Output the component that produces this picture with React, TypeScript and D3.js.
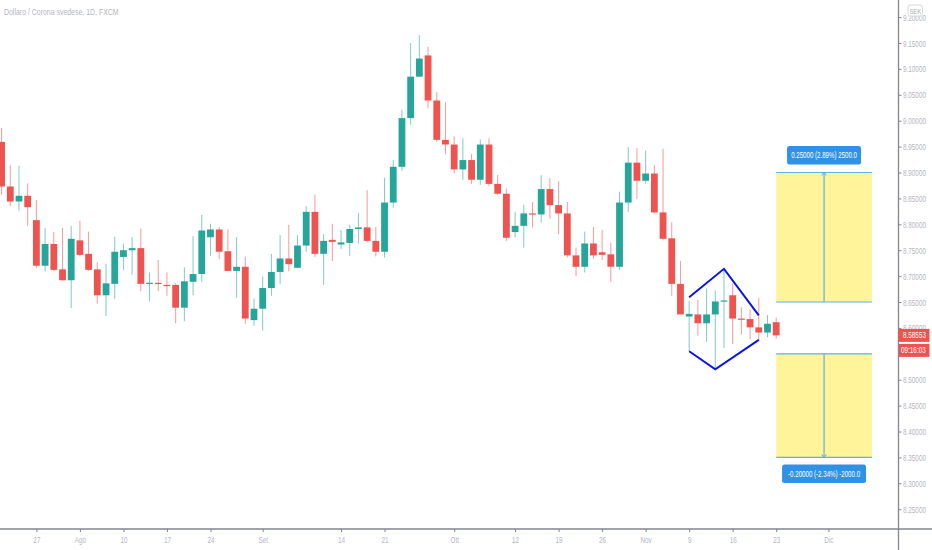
import React, { useEffect, useRef } from 'react';
import * as d3 from 'd3';

const WIDTH = 932;
const HEIGHT = 550;

const opens = [
  8.959, 8.873, 8.844, 8.855, 8.808, 8.720, 8.762, 8.713, 8.692, 8.769,
  8.743, 8.713, 8.663, 8.685, 8.737, 8.750, 8.754, 8.685, 8.687, 8.683,
  8.683, 8.639, 8.689, 8.704, 8.775, 8.790, 8.748, 8.710, 8.718, 8.615,
  8.637, 8.677, 8.708, 8.734, 8.716, 8.759, 8.824, 8.743, 8.770, 8.761,
  8.764, 8.791, 8.794, 8.768, 8.747, 8.842, 8.911, 9.005, 9.085, 9.126,
  9.039, 8.963, 8.954, 8.906, 8.924, 8.886, 8.954, 8.878, 8.859, 8.785,
  8.797, 8.821, 8.819, 8.868, 8.837, 8.821, 8.740, 8.718, 8.763, 8.746,
  8.742, 8.718, 8.842, 8.919, 8.884, 8.898, 8.823, 8.773, 8.685, 8.622,
  8.626, 8.609, 8.626, 8.651, 8.663, 8.618, 8.617, 8.601, 8.591, 8.611,
];

const closes = [
  8.873, 8.844, 8.855, 8.833, 8.720, 8.762, 8.712, 8.692, 8.772, 8.741,
  8.712, 8.663, 8.686, 8.747, 8.750, 8.754, 8.685, 8.687, 8.685, 8.682,
  8.639, 8.690, 8.704, 8.788, 8.790, 8.747, 8.710, 8.718, 8.618, 8.637,
  8.677, 8.708, 8.734, 8.723, 8.759, 8.824, 8.743, 8.768, 8.766, 8.765,
  8.791, 8.794, 8.768, 8.747, 8.842, 8.911, 9.005, 9.085, 9.120, 9.039,
  8.963, 8.954, 8.906, 8.924, 8.886, 8.954, 8.878, 8.859, 8.774, 8.797,
  8.821, 8.819, 8.868, 8.837, 8.821, 8.740, 8.718, 8.763, 8.740, 8.741,
  8.718, 8.842, 8.919, 8.884, 8.898, 8.823, 8.772, 8.685, 8.626, 8.627,
  8.609, 8.626, 8.651, 8.653, 8.618, 8.616, 8.601, 8.591, 8.608, 8.58553,
];

const highs = [
  8.986, 8.914, 8.913, 8.879, 8.847, 8.793, 8.785, 8.793, 8.797, 8.807,
  8.786, 8.727, 8.724, 8.776, 8.763, 8.775, 8.792, 8.707, 8.731, 8.707,
  8.686, 8.717, 8.777, 8.818, 8.801, 8.795, 8.790, 8.775, 8.737, 8.657,
  8.699, 8.743, 8.779, 8.799, 8.779, 8.835, 8.857, 8.781, 8.801, 8.789,
  8.799, 8.822, 8.866, 8.795, 8.890, 8.924, 9.021, 9.150, 9.165, 9.143,
  9.055, 9.036, 8.970, 8.966, 8.936, 8.964, 8.966, 8.895, 8.869, 8.824,
  8.838, 8.843, 8.895, 8.889, 8.883, 8.843, 8.755, 8.786, 8.795, 8.789,
  8.765, 8.863, 8.949, 8.947, 8.942, 8.914, 8.946, 8.804, 8.729, 8.652,
  8.654, 8.676, 8.672, 8.714, 8.686, 8.640, 8.635, 8.658, 8.625, 8.620,
];

const lows = [
  8.857, 8.835, 8.826, 8.797, 8.716, 8.709, 8.710, 8.691, 8.638, 8.739,
  8.710, 8.647, 8.623, 8.656, 8.712, 8.703, 8.671, 8.651, 8.671, 8.662,
  8.609, 8.613, 8.663, 8.689, 8.739, 8.733, 8.710, 8.658, 8.608, 8.604,
  8.595, 8.662, 8.685, 8.709, 8.716, 8.747, 8.737, 8.683, 8.729, 8.752,
  8.739, 8.763, 8.765, 8.738, 8.736, 8.832, 8.903, 8.992, 9.085, 9.024,
  8.959, 8.935, 8.898, 8.886, 8.878, 8.876, 8.874, 8.857, 8.768, 8.775,
  8.755, 8.794, 8.803, 8.811, 8.781, 8.736, 8.700, 8.707, 8.733, 8.731,
  8.689, 8.712, 8.824, 8.849, 8.878, 8.821, 8.769, 8.662, 8.626, 8.555,
  8.585, 8.573, 8.520, 8.561, 8.569, 8.587, 8.578, 8.575, 8.582, 8.579,
];

const priceTicks = [
  9.2, 9.15, 9.1, 9.05, 9.0, 8.95, 8.9, 8.85, 8.8, 8.75, 8.7, 8.65, 8.6, 8.55, 8.5, 8.45, 8.4,
  8.35, 8.3, 8.25,
];

// bar index of each time axis label
const timeTickBars = [4, 9, 14, 19, 24, 30, 39, 44, 52, 59, 64, 69, 74, 79, 84, 89, 95];
const timeTickLabels = [
  '27', 'Ago', '10', '17', '24', 'Set', '14', '21', 'Ott', '12', '19', '26', 'Nov', '9', '16', '23', 'Dic',
];

// diamond drawing, as [bar, price] anchors
const diamondUpper: [number, number][] = [[79, 8.659], [83, 8.714], [87, 8.624]];
const diamondLower: [number, number][] = [[79, 8.555], [82, 8.52], [87, 8.577]];

// price range tools
const rangeBars = [89, 100];
const upperRange = [8.9, 8.65];
const lowerRange = [8.55, 8.35];
const upperLabel = '0.25000 (2.89%) 2500.0';
const lowerLabel = '-0.20000 (-2.34%) -2000.0';

const title = 'Dollaro / Corona svedese, 1D, FXCM';
const lastPrice = 8.58553;
const countdown = '09:16:03';

const UP = '#26a69a';
const DOWN = '#ef5350';
const AXIS = '#83868f';
const MUTED = '#b4b6bd';
const TOOL = '#5eaee8';
const LABEL_BG = '#2f92e6';
const SQUEEZE = 0.74;
const FONT = '"Liberation Sans", Arial, sans-serif';

const App: React.FC = () => {
  const svgRef = useRef<SVGSVGElement>(null);

  useEffect(() => {
    if (!svgRef.current) return;
    const svg = d3.select(svgRef.current);
    svg.selectAll('*').remove();

    const axisX = 898.5;
    const axisY = 529;

    const x = d3.scaleLinear().domain([4, 89]).range([36.4, 776.2]);
    const y = d3.scaleLinear().domain([9.15, 8.25]).range([43, 509.2]);

    const squeezed = (
      parent: d3.Selection<any, any, any, any>,
      px: number,
      py: number,
      str: string,
      size: number,
      fill: string,
      anchor = 'middle',
    ) =>
      parent
        .append('text')
        .attr('transform', `translate(${px},${py}) scale(${SQUEEZE},1)`)
        .attr('text-anchor', anchor)
        .attr('font-family', FONT)
        .attr('font-size', size)
        .attr('fill', fill)
        .text(str);

    // Candles
    const candles = svg.append('g');
    const bars = d3.range(opens.length);
    candles
      .selectAll('line')
      .data(bars)
      .enter()
      .append('line')
      .attr('x1', (i) => x(i))
      .attr('x2', (i) => x(i))
      .attr('y1', (i) => y(highs[i]))
      .attr('y2', (i) => y(lows[i]))
      .attr('stroke', (i) => (closes[i] >= opens[i] ? UP : DOWN))
      .attr('stroke-opacity', 0.65)
      .attr('stroke-width', 0.9);
    candles
      .selectAll('rect')
      .data(bars)
      .enter()
      .append('rect')
      .attr('x', (i) => x(i) - 3.4)
      .attr('width', 6.8)
      .attr('y', (i) => y(Math.max(opens[i], closes[i])))
      .attr('height', (i) => Math.max(1.2, Math.abs(y(opens[i]) - y(closes[i]))))
      .attr('fill', (i) => (closes[i] >= opens[i] ? UP : DOWN));

    // Diamond
    const diamondLine = d3
      .line<[number, number]>()
      .x((d) => x(d[0]))
      .y((d) => y(d[1]));
    [diamondUpper, diamondLower].forEach((pts) => {
      svg
        .append('path')
        .attr('d', diamondLine(pts))
        .attr('fill', 'none')
        .attr('stroke', '#0a14e6')
        .attr('stroke-width', 2);
    });

    // Price ranges
    const left = x(rangeBars[0]);
    const right = x(rangeBars[1]);
    const mid = (left + right) / 2;
    [upperRange, lowerRange].forEach((range, k) => {
      const top = y(range[0]);
      const bottom = y(range[1]);
      const g = svg.append('g');
      g.append('rect')
        .attr('x', left)
        .attr('y', top)
        .attr('width', right - left)
        .attr('height', bottom - top)
        .attr('fill', '#fff49a');
      [top, bottom].forEach((v) => {
        g.append('line')
          .attr('x1', left)
          .attr('x2', right)
          .attr('y1', v)
          .attr('y2', v)
          .attr('stroke', TOOL)
          .attr('stroke-width', 1.2);
      });
      g.append('line')
        .attr('x1', mid)
        .attr('x2', mid)
        .attr('y1', top)
        .attr('y2', bottom)
        .attr('stroke', TOOL)
        .attr('stroke-width', 1.2);
      const tip = k === 0 ? top : bottom;
      const dir = k === 0 ? 1 : -1;
      g.append('path')
        .attr('d', `M${mid - 2.5},${tip + dir * 3}L${mid},${tip}L${mid + 2.5},${tip + dir * 3}`)
        .attr('fill', 'none')
        .attr('stroke', TOOL)
        .attr('stroke-width', 1);

      const boxW = k === 0 ? 74 : 84;
      const boxY = k === 0 ? top - 26.5 : bottom + 7;
      g.append('rect')
        .attr('x', mid - boxW / 2)
        .attr('y', boxY)
        .attr('width', boxW)
        .attr('height', 18.5)
        .attr('rx', 2.5)
        .attr('fill', LABEL_BG);
      squeezed(g, mid, boxY + 12.4, k === 0 ? upperLabel : lowerLabel, 8.3, '#ffffff');
    });

    // Price axis
    const yAxis = svg
      .append('g')
      .attr('transform', `translate(${axisX},0)`)
      .call(
        d3
          .axisRight(y)
          .tickValues(priceTicks)
          .tickFormat((d) => d3.format('.5f')(d as number))
          .tickSize(3)
          .tickSizeOuter(0),
      );
    yAxis.select('.domain').remove();
    yAxis.selectAll('line').attr('stroke', AXIS);
    yAxis
      .selectAll('text')
      .attr('x', null)
      .attr('dy', null)
      .attr('transform', `translate(4.5,3) scale(${SQUEEZE},1)`)
      .attr('font-family', FONT)
      .attr('font-size', 8.6)
      .attr('fill', MUTED);

    // Time axis
    const xAxis = svg
      .append('g')
      .attr('transform', `translate(0,${axisY})`)
      .call(
        d3
          .axisBottom(x)
          .tickValues(timeTickBars)
          .tickFormat((_, i) => timeTickLabels[i])
          .tickSize(3)
          .tickSizeOuter(0),
      );
    xAxis.select('.domain').remove();
    xAxis.selectAll('line').attr('stroke', AXIS);
    xAxis
      .selectAll('text')
      .attr('y', null)
      .attr('dy', null)
      .attr('transform', `translate(0,14) scale(${SQUEEZE},1)`)
      .attr('font-family', FONT)
      .attr('font-size', 8.6)
      .attr('fill', MUTED);

    // Frame
    svg
      .append('line')
      .attr('x1', 0)
      .attr('x2', WIDTH)
      .attr('y1', axisY)
      .attr('y2', axisY)
      .attr('stroke', AXIS)
      .attr('stroke-width', 1.3);
    svg
      .append('line')
      .attr('x1', axisX)
      .attr('x2', axisX)
      .attr('y1', 0)
      .attr('y2', HEIGHT)
      .attr('stroke', AXIS)
      .attr('stroke-width', 1.3);

    // Last price tag and countdown
    const lastY = y(lastPrice);
    svg
      .append('rect')
      .attr('x', axisX)
      .attr('y', lastY - 6.5)
      .attr('width', 31)
      .attr('height', 13)
      .attr('fill', DOWN);
    squeezed(svg, axisX + 4.5, lastY + 3, d3.format('.5f')(lastPrice), 8.6, '#ffffff', 'start');
    svg
      .append('rect')
      .attr('x', axisX + 0.5)
      .attr('y', lastY + 8.5)
      .attr('width', 30.5)
      .attr('height', 13)
      .attr('fill', DOWN);
    squeezed(svg, axisX + 2.5, lastY + 18, countdown, 8.6, '#ffffff', 'start');

    // Currency badge
    svg
      .append('rect')
      .attr('x', 908)
      .attr('y', 5)
      .attr('width', 14.5)
      .attr('height', 11)
      .attr('rx', 2.5)
      .attr('fill', '#ffffff')
      .attr('stroke', '#d6d8dd')
      .attr('stroke-width', 1);
    squeezed(svg, 915.3, 13.5, 'SEK', 8, '#a8abb3');

    squeezed(svg, 4, 15, title, 9.4, MUTED, 'start');
  }, []);

  return (
    <svg
      ref={svgRef}
      width={WIDTH}
      height={HEIGHT}
      style={{ position: 'absolute', left: 0, top: 0, background: '#ffffff' }}
    />
  );
};

export default App;
